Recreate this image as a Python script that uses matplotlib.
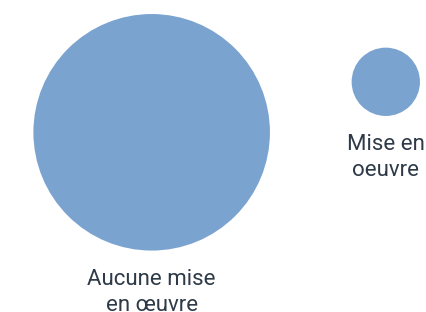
import numpy as np
import matplotlib
matplotlib.use("Agg")
import matplotlib.pyplot as plt
from matplotlib.patches import Circle

categories = ["Aucune mise\nen œuvre", "Mise en\noeuvre"]
values = [92.3, 7.7]

W, H, DPI = 427, 312, 100
fig = plt.figure(figsize=(W / DPI, H / DPI), dpi=DPI)
ax = fig.add_axes([0, 0, 1, 1])
ax.set_xlim(0, W)
ax.set_ylim(H, 0)
ax.set_aspect("equal")
ax.axis("off")

color = "#7ba3cf"
text_color = "#2e3a48"
k = 12.31  # px per sqrt(value)
radii = [k * np.sqrt(v) for v in values]

left_margin = 33.4
gap = 81.7
cx0 = left_margin + radii[0]
cx1 = cx0 + radii[0] + gap + radii[1]
centers = [(cx0, 132.3), (cx1, 81.8)]

for (cx, cy), r, lab in zip(centers, radii, categories):
    ax.add_patch(Circle((cx, cy), r, facecolor=color, edgecolor="none"))
    ax.text(cx, cy + r + 18, lab, ha="center", va="top", fontsize=16,
            family=["Roboto", "DejaVu Sans"], color=text_color,
            linespacing=1.32)

fig.savefig("out.png", dpi=DPI)
